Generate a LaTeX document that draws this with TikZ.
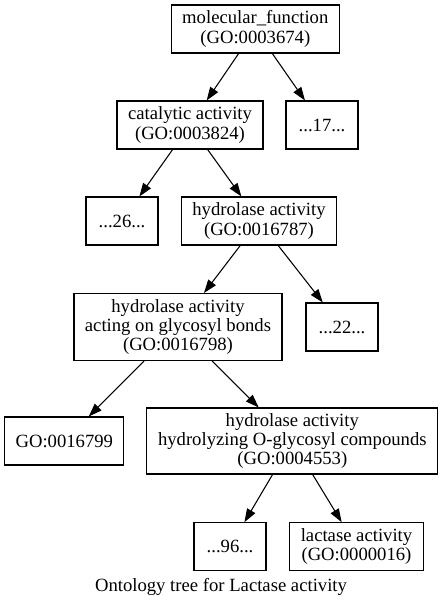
\documentclass[tikz,border=0pt]{standalone}
\usepackage{fontspec}
\setmainfont{Liberation Serif}
\usetikzlibrary{arrows.meta}
\begin{document}
\begin{tikzpicture}[x=0.75pt,y=-0.75pt,
  gobox/.style={draw,line width=0.8pt,inner sep=0pt,align=center,minimum height=36pt,font=\fontsize{14}{14.5}\selectfont},
  goedge/.style={line width=0.8pt,-{Triangle[length=10pt,width=7pt]}}]
\fill[white] (0,0) rectangle (443,600);
\useasboundingbox (0,0) rectangle (443,600);
\node[gobox,minimum width=126pt] (mol) at (255.3,29) {molecular\_function\\(GO:0003674)};
\node[gobox,minimum width=109.5pt] (cat) at (190,125) {catalytic activity\\(GO:0003824)};
\node[gobox,minimum width=54pt] (n17) at (322,125) {...17...};
\node[gobox,minimum width=54pt] (n26) at (122,221) {...26...};
\node[gobox,minimum width=116.25pt] (hyd) at (259,221) {hydrolase activity\\(GO:0016787)};
\node[gobox,minimum width=156pt,minimum height=50.25pt] (gly) at (178,327) {hydrolase activity\\acting on glycosyl bonds\\(GO:0016798)};
\node[gobox,minimum width=54pt] (n22) at (342,327) {...22...};
\node[gobox,minimum width=89.25pt] (g799) at (64.3,441) {GO:0016799};
\node[gobox,minimum width=218.25pt,minimum height=49.5pt] (ogly) at (292.3,441) {hydrolase activity\\hydrolyzing O-glycosyl compounds\\(GO:0004553)};
\node[gobox,minimum width=54pt] (n96) at (230,546.7) {...96...};
\node[gobox,minimum width=100.5pt] (lac) at (356.5,546.7) {lactase activity\\(GO:0000016)};
\node[anchor=base,inner sep=0pt,font=\fontsize{14}{14.5}\selectfont] (cap) at (221,591.5) {Ontology tree for Lactase activity};
\draw[goedge] (mol) -- (cat);
\draw[goedge] (mol) -- (n17);
\draw[goedge] (cat) -- (n26);
\draw[goedge] (cat) -- (hyd);
\draw[goedge] (hyd) -- (gly);
\draw[goedge] (hyd) -- (n22);
\draw[goedge] (gly) -- (g799);
\draw[goedge] (gly) -- (ogly);
\draw[goedge] (ogly) -- (n96);
\draw[goedge] (ogly) -- (lac);
\end{tikzpicture}
\end{document}
